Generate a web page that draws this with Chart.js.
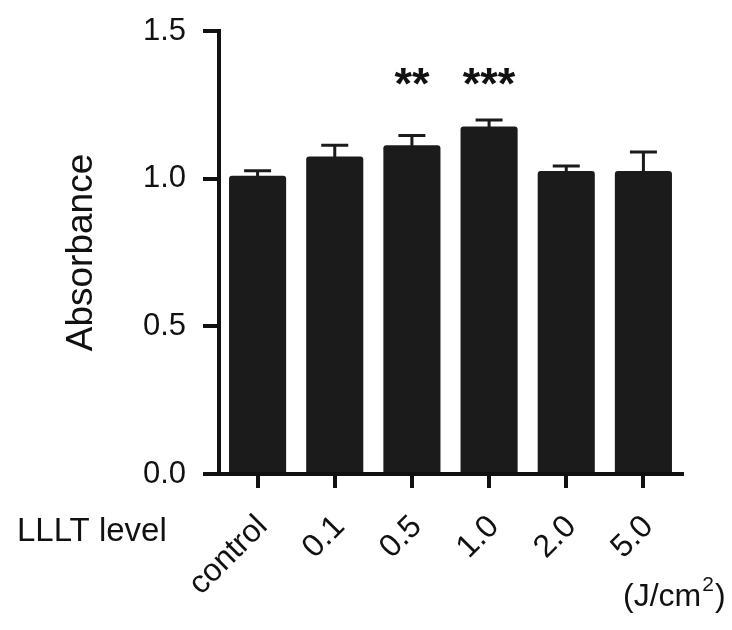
<!DOCTYPE html>
<html>
<head>
<meta charset="utf-8">
<script src="https://cdn.jsdelivr.net/npm/chart.js@4/dist/chart.umd.min.js"></script>
<style>
  html, body { margin: 0; padding: 0; background: #ffffff; }
  #wrap { width: 732px; height: 630px; position: relative; }
</style>
</head>
<body>
<div id="wrap"><canvas id="c" width="732" height="630"></canvas></div>
<script>
// ---- data ----
const categories = ["control", "0.1", "0.5", "1.0", "2.0", "5.0"];
const absorbance = [1.01, 1.075, 1.113, 1.177, 1.026, 1.026];
const sem = [0.017, 0.038, 0.033, 0.022, 0.017, 0.064];
const significance = ["", "", "**", "***", "", ""];
const yTicks = [0, 0.5, 1.0, 1.5];
const yTitle = "Absorbance";
const xLeftLabel = "LLLT level";
const unitLabel = { base: "(J/cm", sup: "2", close: ")" };

const FONT = "'Liberation Sans', Arial, Helvetica, sans-serif";
const INK = "#111111";
const BAR = "#1b1b1b";

const extras = {
  id: "extras",
  afterDatasetsDraw(chart) {
    const ctx = chart.ctx;
    const x = chart.scales.x, y = chart.scales.y;
    ctx.save();
    // error bars
    ctx.strokeStyle = BAR;
    ctx.lineWidth = 3;
    ctx.lineCap = "butt";
    absorbance.forEach((v, i) => {
      const cx = x.getPixelForValue(i);
      const top = y.getPixelForValue(v + sem[i]);
      const base = y.getPixelForValue(v);
      ctx.beginPath();
      ctx.moveTo(cx, base + 2);
      ctx.lineTo(cx, top);
      ctx.moveTo(cx - 13.5, top);
      ctx.lineTo(cx + 13.5, top);
      ctx.stroke();
    });
    // significance stars
    ctx.fillStyle = INK;
    ctx.font = "bold 45px " + FONT;
    ctx.textAlign = "center";
    ctx.textBaseline = "alphabetic";
    significance.forEach((s, i) => {
      if (!s) return;
      const cx = x.getPixelForValue(i);
      ctx.fillText(s, cx, y.getPixelForValue(1.5) + 68);
    });
    // left label for x axis
    ctx.font = "33px " + FONT;
    ctx.textAlign = "left";
    ctx.fillText(xLeftLabel, 17, 541);
    // unit label with superscript
    const bx = 623, by = 606;
    ctx.font = "32px " + FONT;
    ctx.fillText(unitLabel.base, bx, by);
    let w = ctx.measureText(unitLabel.base).width;
    ctx.font = "21px " + FONT;
    ctx.fillText(unitLabel.sup, bx + w + 1, by - 15);
    const w2 = ctx.measureText(unitLabel.sup).width;
    ctx.font = "32px " + FONT;
    ctx.fillText(unitLabel.close, bx + w + w2 + 2, by);
    ctx.restore();
  }
};

new Chart(document.getElementById("c"), {
  type: "bar",
  data: {
    labels: categories,
    datasets: [{
      data: absorbance,
      backgroundColor: BAR,
      borderWidth: 0,
      borderRadius: 3,
      borderSkipped: "start",
      categoryPercentage: 1.0,
      barPercentage: 0.74
    }]
  },
  options: {
    responsive: false,
    animation: false,
    devicePixelRatio: 1,
    layout: { padding: { left: 0, top: 31, right: 50, bottom: 0 } },
    plugins: { legend: { display: false }, tooltip: { enabled: false } },
    scales: {
      x: {
        offset: true,
        grid: {
          offset: false,
          drawOnChartArea: false,
          drawTicks: true,
          tickLength: 14,
          lineWidth: 4,
          color: INK
        },
        border: { display: true, color: INK, width: 4 },
        ticks: {
          color: INK,
          font: { family: FONT, size: 32 },
          minRotation: 45,
          maxRotation: 45,
          padding: 20,
          labelOffset: 5,
          autoSkip: false
        },
        afterFit(scale) { scale.height = 156; scale.paddingLeft = 0; scale.paddingRight = 0; }
      },
      y: {
        min: 0,
        max: 1.5,
        afterBuildTicks(scale) { scale.ticks = yTicks.map(v => ({ value: v })); },
        grid: {
          drawOnChartArea: false,
          drawTicks: true,
          tickLength: 16,
          lineWidth: 4,
          color: INK
        },
        border: { display: true, color: INK, width: 4 },
        ticks: {
          color: INK,
          font: { family: FONT, size: 31 },
          padding: 17,
          callback: (v) => Number(v).toFixed(1)
        },
        title: {
          display: true,
          text: yTitle,
          color: INK,
          font: { family: FONT, size: 37 },
          padding: { top: 60, bottom: 0 }
        },
        afterFit(scale) { scale.width = 219; scale.paddingTop = 0; scale.paddingBottom = 0; }
      }
    }
  },
  plugins: [extras]
});
</script>
</body>
</html>
